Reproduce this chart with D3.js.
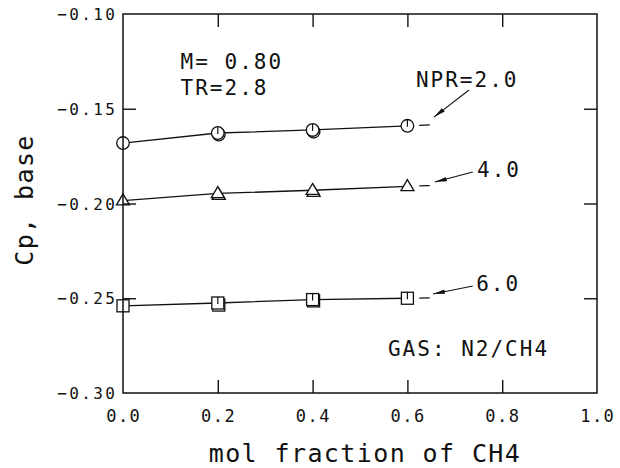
<!DOCTYPE html>
<html><head><meta charset="utf-8">
<script src="https://cdn.jsdelivr.net/npm/d3@7"></script>
<style>
html,body{margin:0;padding:0;background:#fff;}
text{font-family:"DejaVu Sans Mono","Liberation Mono",monospace;fill:#111;}
</style></head>
<body>
<svg id="chart" width="620" height="468"></svg>
<script>
// ---- data ----
const molFraction = [0.0, 0.2, 0.4, 0.6];
const cpNPR2 = [-0.1681, -0.1628, -0.1612, -0.1590];
const cpNPR4 = [-0.1985, -0.1947, -0.1930, -0.1910];
const cpNPR6 = [-0.2540, -0.2525, -0.2507, -0.2500];
// repeat runs (overlapping markers)
const repeatX = [0.2, 0.4];
const cpNPR2Repeat = [-0.1636, -0.1621];
const cpNPR4Repeat = [-0.1956, -0.1940];
const cpNPR6Repeat = [-0.2536, -0.2514];
const xTicks = [0.0, 0.2, 0.4, 0.6, 0.8, 1.0];
const yTicks = [-0.30, -0.25, -0.20, -0.15, -0.10];
const seriesLabels = ["NPR=2.0", "4.0", "6.0"];

const svg = d3.select("#chart");
const L = 123, R = 597, T = 14, B = 393;
const x = d3.scaleLinear().domain([0, 1]).range([L, R]);
const y = d3.scaleLinear().domain([-0.30, -0.10]).range([B, T]);

const series = [
  {vals: cpNPR2, rep: cpNPR2Repeat, shape: "circle"},
  {vals: cpNPR4, rep: cpNPR4Repeat, shape: "triangle"},
  {vals: cpNPR6, rep: cpNPR6Repeat, shape: "square"}
];

const tk = 13;

// tick labels
const fmtMinus = v => (v < 0 ? "\u2212" : "") + Math.abs(v).toFixed(2);
svg.append("g").selectAll("text").data(yTicks).join("text")
  .attr("x", 115 + 2.4).attr("y", d => y(d) + 6)
  .attr("text-anchor", "end").style("font-size", "16px").style("letter-spacing", "2.4px")
  .text(fmtMinus);
svg.append("g").selectAll("text").data(xTicks).join("text")
  .attr("x", d => x(d) + 0.75).attr("y", 422)
  .attr("text-anchor", "middle").style("font-size", "17px").style("letter-spacing", "1.5px")
  .text(d => d.toFixed(1));

// axis titles
svg.append("text").attr("x", 365).attr("y", 462).attr("text-anchor", "middle")
  .style("font-size", "25px").style("letter-spacing", "1.4px").text("mol fraction of CH4");
svg.append("text").attr("transform", "translate(33,200) rotate(-90)").attr("text-anchor", "middle")
  .style("font-size", "25px").style("letter-spacing", "1.4px").text("Cp, base");

// lines
const line = d3.line().x(d => x(d[0])).y(d => y(d[1]));
series.forEach(s => {
  const pts = molFraction.map((m, i) => [m, s.vals[i]]);
  svg.append("path").attr("d", line(pts)).attr("fill", "none")
    .attr("stroke", "#111").attr("stroke-width", 1.3);
  // short extension segment beyond last point
  const n = pts.length, slope = (pts[n-1][1] - pts[n-2][1]) / (pts[n-1][0] - pts[n-2][0]);
  const x0 = pts[n-1][0] + 0.025, x1 = pts[n-1][0] + 0.047;
  svg.append("line").attr("x1", x(x0)).attr("y1", y(pts[n-1][1] + slope * 0.025))
    .attr("x2", x(x1)).attr("y2", y(pts[n-1][1] + slope * 0.047))
    .attr("stroke", "#111").attr("stroke-width", 1.3);
});

// markers
function drawMarker(g, shape, cx, cy, flag) {
  if (shape === "circle") {
    g.append("circle").attr("cx", cx).attr("cy", cy).attr("r", 6.3)
      .attr("fill", "#fff").attr("stroke", "#111").attr("stroke-width", 1.3);
    if (flag) g.append("line").attr("x1", cx).attr("x2", cx).attr("y1", cy - 6).attr("y2", cy + 1)
      .attr("stroke", "#111").attr("stroke-width", 1.2);
  } else if (shape === "triangle") {
    const h = 11, w = 13;
    g.append("path").attr("d", `M${cx},${cy - h*0.62}L${cx + w/2},${cy + h*0.38}L${cx - w/2},${cy + h*0.38}Z`)
      .attr("fill", "#fff").attr("stroke", "#111").attr("stroke-width", 1.3);
  } else {
    g.append("rect").attr("x", cx - 6).attr("y", cy - 6).attr("width", 12).attr("height", 12)
      .attr("fill", "#fff").attr("stroke", "#111").attr("stroke-width", 1.3);
    if (flag) g.append("line").attr("x1", cx).attr("x2", cx).attr("y1", cy - 6).attr("y2", cy + 1)
      .attr("stroke", "#111").attr("stroke-width", 1.2);
  }
}
const mg = svg.append("g");
series.forEach(s => {
  repeatX.forEach((m, i) => drawMarker(mg, s.shape, x(m) + 1, y(s.rep[i]), false));
  molFraction.forEach((m, i) => drawMarker(mg, s.shape, x(m), y(s.vals[i]), m > 0));
});

// frame and inward ticks (drawn above markers)
svg.append("rect").attr("x", L).attr("y", T).attr("width", R - L).attr("height", B - T)
  .attr("fill", "none").attr("stroke", "#111").attr("stroke-width", 1.5);
const inner = xTicks.filter(d => d > 0 && d < 1);
const innerY = yTicks.filter(d => d > -0.30 && d < -0.10);
svg.append("g").attr("transform", `translate(0,${B})`)
  .call(d3.axisBottom(x).tickValues(inner).tickSize(-tk).tickFormat(""))
  .call(g => g.select(".domain").remove());
svg.append("g").attr("transform", `translate(0,${T})`)
  .call(d3.axisTop(x).tickValues(inner).tickSize(-tk).tickFormat(""))
  .call(g => g.select(".domain").remove());
svg.append("g").attr("transform", `translate(${L},0)`)
  .call(d3.axisLeft(y).tickValues(innerY).tickSize(-tk).tickFormat(""))
  .call(g => g.select(".domain").remove());
svg.append("g").attr("transform", `translate(${R},0)`)
  .call(d3.axisRight(y).tickValues(innerY).tickSize(-tk).tickFormat(""))
  .call(g => g.select(".domain").remove());
svg.selectAll(".tick line").attr("stroke", "#111").attr("stroke-width", 1.4);

// annotations
svg.append("defs").append("marker").attr("id", "ah").attr("viewBox", "0 0 12 6")
  .attr("refX", 12).attr("refY", 3).attr("markerWidth", 12).attr("markerHeight", 6)
  .attr("markerUnits", "userSpaceOnUse").attr("orient", "auto")
  .append("path").attr("d", "M0,0.8L12,3L0,5.2Z").attr("fill", "#111");

const annText = [
  {t: "M= 0.80", x: 0.1215, y: -0.1291},
  {t: "TR=2.8", x: 0.1215, y: -0.1428},
  {t: seriesLabels[0], x: 0.618, y: -0.1385},
  {t: seriesLabels[1], x: 0.747, y: -0.1860},
  {t: seriesLabels[2], x: 0.745, y: -0.2462},
  {t: "GAS: N2/CH4", x: 0.559, y: -0.2805}
];
svg.append("g").selectAll("text").data(annText).join("text")
  .attr("x", d => x(d.x)).attr("y", d => y(d.y))
  .style("font-size", "21px").style("letter-spacing", "2px").text(d => d.t);

const arrows = [
  {x1: 0.730, y1: -0.1401, x2: 0.656, y2: -0.1544},
  {x1: 0.738, y1: -0.1834, x2: 0.658, y2: -0.1887},
  {x1: 0.738, y1: -0.2435, x2: 0.654, y2: -0.2478}
];
svg.append("g").selectAll("line").data(arrows).join("line")
  .attr("x1", d => x(d.x1)).attr("y1", d => y(d.y1))
  .attr("x2", d => x(d.x2)).attr("y2", d => y(d.y2))
  .attr("stroke", "#111").attr("stroke-width", 1.1).attr("marker-end", "url(#ah)");
</script>
</body></html>
